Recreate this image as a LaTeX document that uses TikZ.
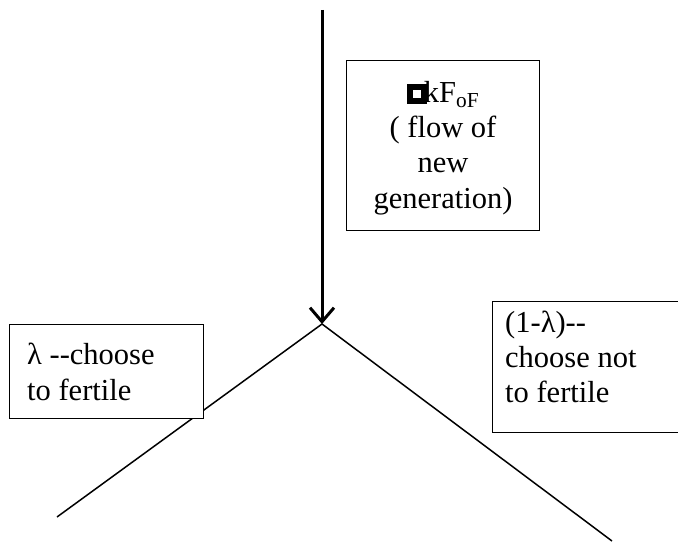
\documentclass[tikz,border=0pt]{standalone}
\usepackage{fontspec}
\setmainfont{Liberation Serif}
\usetikzlibrary{arrows.meta}
\newcommand{\missingglyph}{\raisebox{4pt}{\setlength{\fboxsep}{0pt}\setlength{\fboxrule}{6pt}\fbox{\rule{0pt}{8pt}\hspace{8pt}}}}
\begin{document}
\begin{tikzpicture}[x=1pt,y=-1pt,
  box/.style={draw, line width=1.3pt, fill=white, inner sep=0pt},
  txt/.style={font=\fontsize{30.5}{35.3}\selectfont, inner sep=0pt},
  conn/.style={line width=1.5pt},
  flow/.style={line width=3pt, -{Straight Barb[length=14pt,width=24pt,line width=3pt]}}]
\useasboundingbox (0,0) rectangle (678,543);
\coordinate (top) at (322,10);
\coordinate (apex) at (322,324);
\coordinate (lend) at (57,517);
\coordinate (rend) at (612,541);
\draw[conn] (lend) -- (apex) -- (rend);
\draw[flow] (top) -- (apex);
% top box
\node[box, anchor=north west, minimum width=193pt, minimum height=170pt] (gbox) at (346,60) {};
\node[txt, align=center] (gtext) at (443,148) {\missingglyph\kern-3pt kF\textsubscript{oF}\\( flow of\\new\\generation)};
% left box
\node[box, anchor=north west, minimum width=194pt, minimum height=94pt] (lbox) at (9,324) {};
\node[txt, align=left, anchor=west] (ltext) at (27,372) {λ -{}-choose\\to fertile};
% right box
\node[box, anchor=north west, minimum width=200pt, minimum height=131pt] (rbox) at (492,301) {};
\node[txt, align=left, anchor=west] (rtext) at (505,357) {(1-λ)-{}-\\choose not\\to fertile};
\end{tikzpicture}
\end{document}
